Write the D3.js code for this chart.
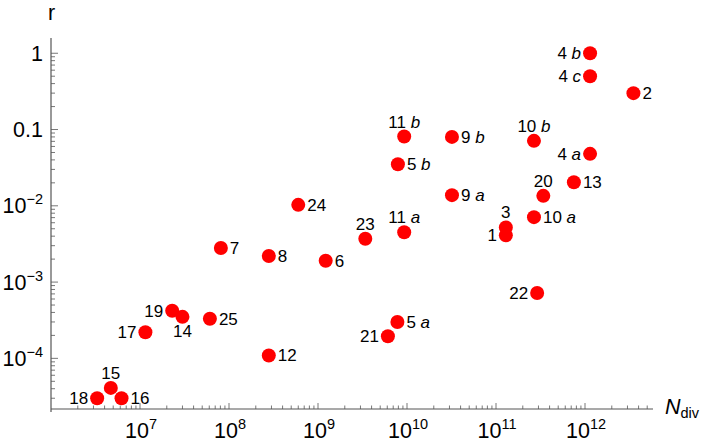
<!DOCTYPE html>
<html>
<head>
<meta charset="utf-8">
<script src="https://cdn.jsdelivr.net/npm/d3@7"></script>
<style>
  html, body { margin: 0; padding: 0; background: #fff; }
  svg { display: block; font-family: "Liberation Sans", Arial, sans-serif; }
  text { white-space: pre; }
</style>
</head>
<body>
<svg id="chart" width="708" height="447"></svg>
<script>
// ---- data ----
const pointNums    = ["1","2","3","4","4","4","5","5","6","7","8","9","9","10","10","11","11","12","13","14","15","16","17","18","19","20","21","22","23","24","25"];
const pointLetters = ["", "", "", "a","b","c","a","b","", "", "", "a","b","a", "b", "a", "b", "", "", "", "", "", "", "", "", "", "", "", "", "", ""];
const nDiv   = [1.29e11, 3.5e12, 1.29e11, 1.14e12, 1.14e12, 1.14e12, 7.8e9, 7.9e9, 1.22e9, 8.1e7, 2.8e8, 3.2e10, 3.2e10, 2.67e11, 2.67e11, 9.3e9, 9.3e9, 2.8e8, 7.5e11, 3.0e7, 4.7e6, 6.2e6, 1.15e7, 3.3e6, 2.3e7, 3.4e11, 6.1e9, 2.9e11, 3.4e9, 6.0e8, 6.1e7];
const rVals  = [0.0041, 0.30, 0.0052, 0.048, 1.0, 0.50, 3.0e-4, 0.035, 0.0019, 0.0028, 0.0022, 0.0138, 0.080, 0.0071, 0.071, 0.0045, 0.081, 1.09e-4, 0.0204, 3.5e-4, 4.1e-5, 3.0e-5, 2.2e-4, 3.0e-5, 4.2e-4, 0.0135, 1.95e-4, 7.2e-4, 0.0037, 0.0103, 3.3e-4];
const labelSide = ["left","right","above","left","left","left","right","right","right","right","right","right","right","right","above","above","above","right","right","below","above","right","left","left","left","above","left","left","above","right","right"];

const xTickExps = [7, 8, 9, 10, 11, 12];
const yTickVals = [1, 0.1, 0.01, 0.001, 0.0001];
const yTickBase = ["1", "0.1", "10", "10", "10"];
const yTickSup  = ["", "", "\u22122", "\u22123", "\u22124"];
const xAxisTitle = "N";
const xAxisSub = "div";
const yAxisTitle = "r";

// ---- layout ----
const svg = d3.select("#chart");
const x = d3.scaleLog().domain([1e6, Math.pow(10, 12.764)]).range([51, 653]);
const y = d3.scaleLog().domain([Math.pow(10, -4.664), Math.pow(10, 0.2)]).range([409, 38]);
const axisColor = "#555";

function logTicks(domain) {
  const out = [];
  const e0 = Math.floor(Math.log10(domain[0])), e1 = Math.ceil(Math.log10(domain[1]));
  for (let e = e0; e <= e1; e++) {
    for (let k = 1; k <= 9; k++) {
      const v = k * Math.pow(10, e);
      if (v >= domain[0] * 0.9999 && v <= domain[1]) out.push({ v, major: k === 1 });
    }
  }
  return out;
}

// axes lines
svg.append("line").attr("x1", x.range()[0]).attr("x2", x.range()[1])
  .attr("y1", y.range()[0]).attr("y2", y.range()[0])
  .attr("stroke", axisColor).attr("stroke-width", 1.2);
svg.append("line").attr("x1", x.range()[0]).attr("x2", x.range()[0])
  .attr("y1", y.range()[0] + 3).attr("y2", y.range()[1])
  .attr("stroke", axisColor).attr("stroke-width", 1.2);

// x ticks
svg.append("g").selectAll("line").data(logTicks(x.domain()).filter(t => x(t.v) > x.range()[0] + 1)).join("line")
  .attr("x1", d => x(d.v)).attr("x2", d => x(d.v))
  .attr("y1", y.range()[0])
  .attr("y2", d => y.range()[0] - (d.major ? 6 : 3.5))
  .attr("stroke", axisColor).attr("stroke-width", 0.8);

// y ticks
svg.append("g").selectAll("line").data(logTicks(y.domain())).join("line")
  .attr("y1", d => y(d.v)).attr("y2", d => y(d.v))
  .attr("x1", x.range()[0])
  .attr("x2", d => x.range()[0] + (d.major ? 7 : 4))
  .attr("stroke", axisColor).attr("stroke-width", 0.8);

// x tick labels
const xl = svg.append("g").selectAll("text").data(xTickExps).join("text")
  .attr("x", d => x(Math.pow(10, d)) + 1)
  .attr("y", 438)
  .attr("text-anchor", "middle")
  .attr("font-size", 21.5)
  .attr("fill", "#000");
xl.append("tspan").text("10");
xl.append("tspan").attr("font-size", 14.5).attr("dy", -9).text(d => String(d));

// y tick labels
const yl = svg.append("g").selectAll("text").data(yTickVals).join("text")
  .attr("x", 43)
  .attr("y", d => y(d) + 7.5)
  .attr("text-anchor", "end")
  .attr("font-size", 21.5)
  .attr("fill", "#000");
yl.append("tspan").text((d, i) => yTickBase[i]);
yl.append("tspan").attr("font-size", 14.5).attr("dy", -9).text((d, i) => yTickSup[i]);

// axis titles
svg.append("text").attr("x", 51.5).attr("y", 20).attr("text-anchor", "middle")
  .attr("font-size", 21.5).text(yAxisTitle);
const xt = svg.append("text").attr("x", 665).attr("y", 414).attr("font-size", 21.5);
xt.append("tspan").attr("font-style", "italic").text(xAxisTitle);
xt.append("tspan").attr("font-size", 14.5).attr("dy", 4).text(xAxisSub);

// points
const idx = d3.range(nDiv.length);
svg.append("g").selectAll("circle").data(idx).join("circle")
  .attr("cx", i => x(nDiv[i]))
  .attr("cy", i => y(rVals[i]))
  .attr("r", 7)
  .attr("fill", "#ff0000");

// point labels
const lab = svg.append("g").selectAll("text").data(idx).join("text")
  .attr("font-size", 17)
  .attr("fill", "#000")
  .attr("x", i => {
    const cx = x(nDiv[i]);
    if (labelSide[i] === "right") return cx + 9;
    if (labelSide[i] === "left") return cx - 9;
    return cx;
  })
  .attr("y", i => {
    const cy = y(rVals[i]);
    if (labelSide[i] === "above") return cy - 9;
    if (labelSide[i] === "below") return cy + 20;
    return cy + 6;
  })
  .attr("text-anchor", i => labelSide[i] === "right" ? "start" : (labelSide[i] === "left" ? "end" : "middle"));
lab.append("tspan").text(i => pointNums[i] + (pointLetters[i] ? " " : ""));
lab.append("tspan").attr("font-style", "italic").text(i => pointLetters[i]);
</script>
</body>
</html>
